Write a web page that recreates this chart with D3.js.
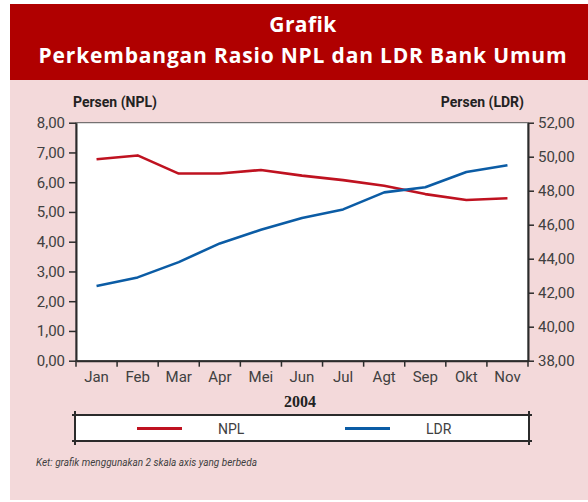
<!DOCTYPE html>
<html>
<head>
<meta charset="UTF-8">
<title>Rasio NPL dan LDR</title>
<script src="https://cdnjs.cloudflare.com/ajax/libs/d3/7.8.5/d3.min.js"></script>
<style>
body { margin: 0; background: #fff; }
svg { display: block; }
.lbl { font-family: Roboto, "Noto Sans", sans-serif; }
</style>
</head>
<body>
<script>
// data (2004)
var months = ["Jan", "Feb", "Mar", "Apr", "Mei", "Jun", "Jul", "Agt", "Sep", "Okt", "Nov"];
var npl = [6.77, 6.90, 6.29, 6.29, 6.41, 6.22, 6.07, 5.88, 5.60, 5.40, 5.46];
var ldr = [42.4, 42.9, 43.8, 44.9, 45.7, 46.4, 46.9, 47.9, 48.2, 49.1, 49.5];
var nplTicks = [0, 1, 2, 3, 4, 5, 6, 7, 8];
var ldrTicks = [38, 40, 42, 44, 46, 48, 50, 52];

var W = 588, H = 502;
var plot = {left: 76, right: 528, top: 122.7, bottom: 360.7};
var axisColor = "#2b2b2b", textColor = "#404040";

var svg = d3.select("body").append("svg")
    .attr("width", W)
    .attr("height", H);

// background panels
svg.append("rect").attr("x", 10).attr("y", 80).attr("width", W - 10).attr("height", 420).attr("fill", "#f3d9da");
svg.append("rect").attr("x", 10).attr("y", 4).attr("width", W - 10).attr("height", 76).attr("fill", "#b00000");

// title
function fitSpacing(t, target) {
  var w = t.node().getComputedTextLength();
  var n = t.text().length;
  t.attr("letter-spacing", (target - w) / (n - 1));
}
var t1 = svg.append("text").attr("x", 303).attr("y", 32).attr("text-anchor", "middle")
    .style("font-family", "'Open Sans', Lato, sans-serif").style("font-weight", "bold")
    .style("font-size", "21px").attr("fill", "#fff").text("Grafik");
fitSpacing(t1, 67);
var t2 = svg.append("text").attr("x", 303).attr("y", 63).attr("text-anchor", "middle")
    .style("font-family", "'Open Sans', Lato, sans-serif").style("font-weight", "bold")
    .style("font-size", "21px").attr("fill", "#fff").text("Perkembangan Rasio NPL dan LDR Bank Umum");
fitSpacing(t2, 528);

// scales
var x = d3.scaleBand().domain(months).range([plot.left, plot.right]);
var yL = d3.scaleLinear().domain([0, 8]).range([plot.bottom, plot.top]);
var yR = d3.scaleLinear().domain([38, 52]).range([plot.bottom, plot.top]);
var fmt = function(d) { return d3.format(".2f")(d).replace(".", ","); };

svg.append("rect")
    .attr("x", plot.left).attr("y", plot.top)
    .attr("width", plot.right - plot.left).attr("height", plot.bottom - plot.top)
    .attr("fill", "#fff").attr("stroke", "#555").attr("stroke-width", 1);

// axes
var gl = svg.append("g").attr("class", "axis")
    .attr("transform", "translate(" + plot.left + ",0)")
    .call(d3.axisLeft(yL).tickValues(nplTicks).tickFormat(fmt).tickSize(7).tickSizeOuter(0).tickPadding(4));
var gr = svg.append("g").attr("class", "axis")
    .attr("transform", "translate(" + plot.right + ",0)")
    .call(d3.axisRight(yR).tickValues(ldrTicks).tickFormat(fmt).tickSize(6).tickSizeOuter(0).tickPadding(4));
var gb = svg.append("g").attr("class", "axis")
    .attr("transform", "translate(0," + plot.bottom + ")")
    .call(d3.axisBottom(x).tickSize(0).tickSizeOuter(0).tickPadding(11));
// ticks between months
gb.selectAll(".sep").data(months.concat(["end"])).enter().append("line")
    .attr("x1", function(d, i) { return i < months.length ? x(d) : plot.right; })
    .attr("x2", function(d, i) { return i < months.length ? x(d) : plot.right; })
    .attr("y1", 0).attr("y2", 6)
    .attr("stroke", axisColor).attr("stroke-width", 1.5);

svg.selectAll(".axis .domain").attr("stroke", axisColor).attr("stroke-width", 2);
svg.selectAll(".axis .tick line").attr("stroke", axisColor).attr("stroke-width", 1.5);
svg.selectAll(".axis text")
    .style("font-family", "Roboto, 'Noto Sans', sans-serif")
    .style("font-size", "15px").attr("fill", textColor);

// axis titles
svg.append("text").attr("class", "lbl").attr("x", 73).attr("y", 106.5)
    .style("font-size", "14px").style("font-weight", "bold").attr("fill", "#222")
    .text("Persen (NPL)");
svg.append("text").attr("class", "lbl").attr("x", 524).attr("y", 106.5).attr("text-anchor", "end")
    .style("font-size", "14px").style("font-weight", "bold").attr("fill", "#222")
    .text("Persen (LDR)");
svg.append("text").attr("x", 300).attr("y", 407).attr("text-anchor", "middle")
    .style("font-family", "'Liberation Serif', serif").style("font-size", "16px").style("font-weight", "bold")
    .attr("fill", "#222").text("2004");

// lines
var lineL = d3.line().x(function(d, i) { return x(months[i]) + x.bandwidth() / 2; }).y(function(d) { return yL(d); });
var lineR = d3.line().x(function(d, i) { return x(months[i]) + x.bandwidth() / 2; }).y(function(d) { return yR(d); });
svg.append("path").datum(npl).attr("d", lineL)
    .attr("fill", "none").attr("stroke", "#bf1220").attr("stroke-width", 2.6).attr("stroke-linejoin", "round");
svg.append("path").datum(ldr).attr("d", lineR)
    .attr("fill", "none").attr("stroke", "#0b5ca5").attr("stroke-width", 2.6).attr("stroke-linejoin", "round");

// legend box
var lg = svg.append("g");
lg.append("rect").attr("x", 75).attr("y", 415).attr("width", 454).attr("height", 26).attr("fill", "#fff");
[415, 441].forEach(function(yy) {
  lg.append("line").attr("x1", 72).attr("x2", 532).attr("y1", yy).attr("y2", yy).attr("stroke", axisColor).attr("stroke-width", 2);
});
[75, 529].forEach(function(xx) {
  lg.append("line").attr("x1", xx).attr("x2", xx).attr("y1", 411).attr("y2", 445).attr("stroke", axisColor).attr("stroke-width", 2);
});
var items = [{name: "NPL", color: "#bf1220", x: 137}, {name: "LDR", color: "#0b5ca5", x: 345}];
items.forEach(function(it) {
  lg.append("line").attr("x1", it.x).attr("x2", it.x + 45).attr("y1", 428.5).attr("y2", 428.5)
    .attr("stroke", it.color).attr("stroke-width", 3);
  lg.append("text").attr("class", "lbl").attr("x", it.x + 81).attr("y", 434)
    .style("font-size", "14px").attr("fill", textColor).text(it.name);
});

// note
svg.append("text").attr("class", "lbl").attr("x", 36).attr("y", 466)
    .style("font-size", "10px").style("font-style", "italic").attr("fill", textColor)
    .text("Ket: grafik menggunakan 2 skala axis yang berbeda");
</script>
</body>
</html>
